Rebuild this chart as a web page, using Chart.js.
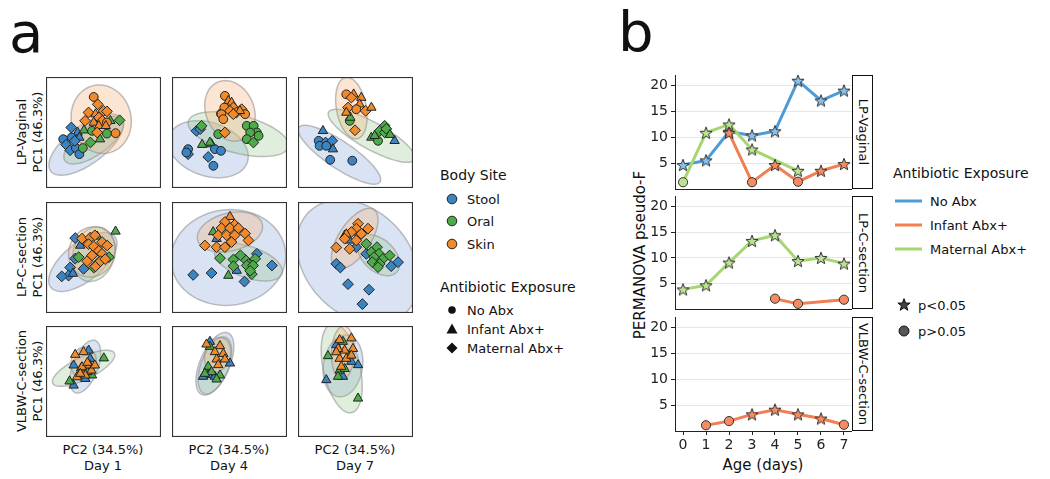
<!DOCTYPE html>
<html>
<head>
<meta charset="utf-8">
<script src="https://cdn.jsdelivr.net/npm/chart.js@4.4.1/dist/chart.umd.min.js"></script>
<style>
  body { margin: 0; background: #fff; width: 1050px; height: 479px; position: relative; overflow: hidden;
         font-family: 'DejaVu Sans', sans-serif; color: #111; }
  .abs { position: absolute; }
  .t { position: absolute; white-space: nowrap; transform: translate(-50%, -50%); line-height: 1; }
  .rl { position: absolute; white-space: nowrap; transform: translate(-50%, -50%) rotate(-90deg); line-height: 1; font-size: 13px; }
  .lg { position: absolute; white-space: nowrap; transform: translateY(-50%); line-height: 1; }
  .strip { position: absolute; box-sizing: border-box; border: 1px solid #111; width: 21px; }
  .strip span { position: absolute; left: 50%; top: 50%; white-space: nowrap; font-size: 13px;
                transform: translate(-50%, -50%) rotate(90deg); }
</style>
</head>
<body>
<div class="abs" style="left:9px;top:5px;font-size:56px;line-height:1">a</div>
<div class="abs" style="left:618px;top:4px;font-size:56px;line-height:1">b</div>

<!-- panel a row / column labels -->
<div class="rl" style="left:21px;top:132px">LP-Vaginal</div>
<div class="rl" style="left:37px;top:132px">PC1 (46.3%)</div>
<div class="rl" style="left:21px;top:257px">LP-C-section</div>
<div class="rl" style="left:37px;top:257px">PC1 (46.3%)</div>
<div class="rl" style="left:21px;top:381px">VLBW-C-section</div>
<div class="rl" style="left:37px;top:381px">PC1 (46.3%)</div>
<div class="t" style="left:103px;top:449px;font-size:13px">PC2 (34.5%)</div>
<div class="t" style="left:103px;top:465px;font-size:13px">Day 1</div>
<div class="t" style="left:229px;top:449px;font-size:13px">PC2 (34.5%)</div>
<div class="t" style="left:229px;top:465px;font-size:13px">Day 4</div>
<div class="t" style="left:355px;top:449px;font-size:13px">PC2 (34.5%)</div>
<div class="t" style="left:355px;top:465px;font-size:13px">Day 7</div>

<!-- panel a legends -->
<div class="lg" style="left:440px;top:175px;font-size:14px">Body Site</div>
<svg class="abs" style="left:445px;top:192px" width="14" height="14"><circle cx="7" cy="7" r="4.8" fill="#3b84c4" stroke="#222"/></svg>
<div class="lg" style="left:467px;top:199px;font-size:13px">Stool</div>
<svg class="abs" style="left:445px;top:214px" width="14" height="14"><circle cx="7" cy="7" r="4.8" fill="#4dab4a" stroke="#222"/></svg>
<div class="lg" style="left:467px;top:221px;font-size:13px">Oral</div>
<svg class="abs" style="left:445px;top:237px" width="14" height="14"><circle cx="7" cy="7" r="4.8" fill="#f08a2c" stroke="#222"/></svg>
<div class="lg" style="left:467px;top:244px;font-size:13px">Skin</div>
<div class="lg" style="left:440px;top:287px;font-size:14px">Antibiotic Exposure</div>
<svg class="abs" style="left:445px;top:303px" width="14" height="14"><circle cx="7" cy="7" r="3.8" fill="#111"/></svg>
<div class="lg" style="left:467px;top:310px;font-size:13px">No Abx</div>
<svg class="abs" style="left:445px;top:322px" width="14" height="14"><polygon points="7,1.5 12.5,11.5 1.5,11.5" fill="#111"/></svg>
<div class="lg" style="left:467px;top:329px;font-size:13px">Infant Abx+</div>
<svg class="abs" style="left:445px;top:341px" width="14" height="14"><polygon points="7,1.5 12.5,7 7,12.5 1.5,7" fill="#111"/></svg>
<div class="lg" style="left:467px;top:348px;font-size:13px">Maternal Abx+</div>

<!-- panel b labels -->
<div class="abs" style="left:640px;top:255px;white-space:nowrap;font-size:15px;line-height:1;transform:translate(-50%,-50%) rotate(-90deg)">PERMANOVA pseudo-F</div>
<div class="t" style="left:763px;top:465px;font-size:15px">Age (days)</div>
<div class="strip" style="left:852px;top:75px;height:114px"><span>LP-Vaginal</span></div>
<div class="strip" style="left:852px;top:196px;height:113px"><span>LP-C-section</span></div>
<div class="strip" style="left:852px;top:317px;height:114px"><span>VLBW-C-section</span></div>

<!-- panel b legend -->
<div class="lg" style="left:893px;top:173px;font-size:14px">Antibiotic Exposure</div>
<svg class="abs" style="left:894px;top:196px" width="30" height="10"><line x1="1" y1="5" x2="28" y2="5" stroke="#4f9bd5" stroke-width="3"/></svg>
<div class="lg" style="left:930px;top:201px;font-size:13px">No Abx</div>
<svg class="abs" style="left:894px;top:220px" width="30" height="10"><line x1="1" y1="5" x2="28" y2="5" stroke="#f27e52" stroke-width="3"/></svg>
<div class="lg" style="left:930px;top:225px;font-size:13px">Infant Abx+</div>
<svg class="abs" style="left:894px;top:244px" width="30" height="10"><line x1="1" y1="5" x2="28" y2="5" stroke="#a6d672" stroke-width="3"/></svg>
<div class="lg" style="left:930px;top:249px;font-size:13px">Maternal Abx+</div>
<svg class="abs" style="left:896px;top:297px" width="16" height="16"><polygon points="8,1.6 9.6,6 14.1,6.1 10.5,8.9 11.8,13.3 8,10.7 4.2,13.3 5.5,8.9 1.9,6.1 6.4,6" fill="#444" stroke="#111"/></svg>
<div class="lg" style="left:918px;top:305px;font-size:13px">p&lt;0.05</div>
<svg class="abs" style="left:896px;top:323px" width="16" height="16"><circle cx="8" cy="8" r="5" fill="#555" stroke="#111"/></svg>
<div class="lg" style="left:918px;top:331px;font-size:13px">p&gt;0.05</div>

<div id="charts"></div>

<script>
// ---- panel a: ordination points [PC2, PC1, exposure] ; exposure 0 = No Abx, 1 = Infant Abx+, 2 = Maternal Abx+
const vagD1Stool = [[22,54.5,2],[27.5,50,1],[15,44,0],[17.5,39,2],[21,34,2],[26,36,0],[29,30.5,0],[29,45.5,1],[22.5,45.5,0],[25,42.5,2]];
const vagD1Oral = [[64,61,2],[53,49,0],[47,44,1],[38.6,41,2],[32,36,0],[33,52,1],[40,51.5,0],[56,60.5,1]];
const vagD1Skin = [[41.5,82,0],[45,75.4,2],[50,69.5,2],[53,69,2],[37,68,2],[43,66.5,1],[46,63.5,2],[41.5,59,1],[49,60.5,2],[53,59,0],[46,56,1],[44.5,50,2],[60.5,49.4,0],[52,56,1],[34,60.5,2]];
const vagD4Stool = [[21.3,51.5,2],[24.5,53,2],[34.4,39.5,1],[37.3,35,0],[42.6,33.5,0],[14,35,0],[14,30.5,2],[31.5,28,2],[36,20,0],[12.5,32,0]];
const vagD4Oral = [[65,56,0],[71,56,0],[73.8,50,0],[68,50,0],[75.3,47,0],[65,44,0],[70.8,41,2],[40.2,48.5,0],[26.2,39,1],[33,41,1],[42.6,67,0],[25.7,56,2]];
const vagD4Skin = [[46,83,0],[49,78.4,1],[51.8,77,1],[45.5,72.5,0],[53.3,72.5,2],[60.6,71,2],[56,68,2],[50.4,69.5,2],[43,66.5,0],[63.6,66.5,0],[44.6,62,0],[46,50,2],[59,69.5,1],[53.3,66.5,2]];
const vagD7Stool = [[21.7,51.5,1],[18,42.5,0],[24,41,2],[29.8,42.5,2],[18.8,38,0],[30.4,35,1],[28,25.4,0],[47.2,24.6,0],[84,42.5,1],[24.6,38,0]];
const vagD7Oral = [[45,60.5,0],[45.5,63.5,1],[75.4,56,2],[71,51.5,2],[63.8,45.5,1],[69.6,42.5,0],[75.4,50,2],[76.8,53.3,2],[66.7,47,1],[80,48,1]];
const vagD7Skin = [[42,84.4,0],[48.4,84.4,1],[46.4,81.5,2],[55,81.4,1],[53.6,75.4,1],[43.5,72.5,2],[50.7,71,0],[58.8,69.5,2],[63.8,72.5,1],[42,68,1],[49.6,52,2]];
const csD1Stool = [[25.4,67.5,2],[29.8,60.8,1],[25.4,49,2],[21,41,2],[19.6,33.7,2],[13.7,33,2],[23.4,35.5,1],[32.7,39.8,2]];
const csD1Oral = [[60.5,73.5,1],[44.5,69,1],[28.4,50.3,2],[41.5,41,2],[54.7,50.3,2],[45.9,45.8,2]];
const csD1Skin = [[31.3,67,2],[38.6,68,2],[42.5,70,2],[37.1,62,2],[41.5,60,2],[48.8,63.9,2],[53.2,60.8,2],[45.9,56,2],[40,51.8,2],[48.8,53.3,2],[35.7,46.7,2],[43,42,2],[47.4,46.7,2],[51.5,48.5,2]];
const csD4Stool = [[38.8,66.9,1],[18.4,34.3,2],[34.4,36,2],[56.3,38.2,1],[63,28.3,2],[86.9,42.8,2],[73.8,53.3,2]];
const csD4Oral = [[35.8,73,1],[53.4,48.2,2],[63.6,48.2,2],[66.5,44,2],[72.3,48.8,2],[65,42.8,2],[70.5,42.8,2],[69.4,35,2],[53.4,42.2,2],[49,33.7,1],[41.7,49.4,2],[68,38,2],[59.5,52,2]];
const csD4Skin = [[50.4,86.7,1],[46,82,2],[54.5,79.5,2],[43,76.5,2],[50.4,76.5,2],[57.7,76.5,2],[40.2,70,2],[47.5,70,2],[54.5,70,2],[63.6,71.6,2],[66.5,65.4,2],[28.6,60.8,2],[38.8,59.3,2],[46,59.3,2],[51.8,63.9,2]];
const csD7Stool = [[40.6,69.9,1],[45,65.4,1],[50.7,59.3,2],[33.3,44.3,2],[36.8,41,2],[43.5,26,2],[61.7,21,2],[56,8,2],[59.4,53.3,2],[81,42.2,2],[87,45.8,2]];
const csD7Oral = [[59.4,62.3,2],[68.7,59.3,2],[63.8,54.8,2],[70.4,53.3,2],[66.1,50.3,2],[73.9,48.8,2],[79.7,51.8,2],[64.6,45.8,2],[71,44.3,2],[69.6,41.3,2]];
const csD7Skin = [[52.2,80.4,2],[50.7,75.9,2],[60.9,76,2],[46.4,72.9,2],[53.6,69.9,2],[42,71,1],[40.6,66.9,2],[50.7,65.4,2],[33.3,59,2],[44.9,57.8,2],[55.1,71.4,2]];
const vlbwD1Stool = [[37.1,78,1],[24,64.6,1],[38.5,70.5,1],[24,46.5,1],[34.2,52.5,1]];
const vlbwD1Oral = [[50.3,71,1],[20.5,50.2,1],[30.5,61.9,1],[40,55.6,1],[36,58.6,1]];
const vlbwD1Skin = [[25.4,74.2,1],[32.7,76.6,1],[38,64.6,1],[31.3,63,1],[34.2,55.6,1],[26.9,54,1],[39.5,60,1],[42.5,64.6,1],[29.8,57.1,1],[36,67,1]];
const vlbwD4Stool = [[33,85.9,1],[50.4,66.4,1],[31.5,55.9,1],[27,54.4,1],[37.3,54.4,1]];
const vlbwD4Oral = [[33,81.4,1],[31.5,63.4,1],[34.4,58.6,1],[41.7,55.6,1],[28.6,57.1,1],[38.8,52,1]];
const vlbwD4Skin = [[30,83.5,1],[41.7,82,1],[37.3,76.6,1],[44.6,75,1],[38.8,70,1],[46,70,1],[40.2,64.9,1]];
const vlbwD7Stool = [[33.3,82.9,1],[52.2,64.9,1],[24.6,51.4,1],[46.4,67.9,1],[39.1,54.4,1]];
const vlbwD7Oral = [[39.1,85.9,1],[26.1,73,1],[44.9,74.5,1],[36.2,60,1],[34.8,54.4,1],[52.2,34.8,1],[40.6,61.5,1]];
const vlbwD7Skin = [[36.2,87.4,1],[46.4,89,1],[40.6,78,1],[47.8,79.5,1],[34.8,79.5,1],[36.2,70.6,1],[42,70.6,1],[46.4,73.5,1],[37.7,63.4,1],[33.3,76.5,1]];

// confidence ellipses per site (stool, oral, skin): [centre PC2, centre PC1, semi-major, semi-minor, angle deg]
const vagD1Ell = [[35,39,39,17,38],[41.5,43,31,13,37],[48,62,31,26,101]];
const vagD4Ell = [[31.5,35,36,24,-20],[57.7,48.5,45,17,-15],[50.4,69.5,28,21,110]];
const vagD7Ell = [[36,30,43,12,-35],[64,47,43,12,-30],[46.4,72,28,13,100]];
const csD1Ell = [[32,46,36,17,40],[41.5,53,25,18,75],[40,55,23,20,70]];
const csD4Ell = [[49,50,50,43,8],[66.5,45.8,31,14,-20],[50.4,73,29,17,15]];
const csD7Ell = [[52,46,62,46,-50],[70,52,22,14,-45],[49.3,67,31,14,58]];
const vlbwD1Ell = [[34.2,63.4,25,11,70],[32.7,61.9,30,10,27],[32.7,67,14,11,80]];
const vlbwD4Ell = [[37.3,66,30,13,68],[37.3,64.5,27,12,70],[39.7,74,16,11,75]];
const vlbwD7Ell = [[39.1,64,28,17,82],[38,62,41,16,102],[39.1,76,24,10,88]];

// ---- panel b: PERMANOVA pseudo-F by age; sig 1 = p<0.05 (star), 0 = p>0.05 (circle)
const ages = [0, 1, 2, 3, 4, 5, 6, 7];
const yTicks = [5, 10, 15, 20];
const vagNoAbx = [4.7, 5.6, 11.1, 10.4, 11.2, 20.9, 17.1, 19.0];
const vagNoAbxSig = [1, 1, 1, 1, 1, 1, 1, 1];
const vagInfant = [null, null, 10.9, 1.4, 4.7, 1.5, 3.6, 4.9];
const vagInfantSig = [0, 0, 1, 0, 1, 0, 1, 1];
const vagMaternal = [1.4, 10.9, 12.5, 7.7, null, 3.6, null, null];
const vagMaternalSig = [0, 1, 1, 1, 0, 1, 0, 0];
const csInfant = [null, null, null, null, 2.1, 1.1, null, 1.9];
const csInfantSig = [0, 0, 0, 0, 0, 0, 0, 0];
const csMaternal = [3.9, 4.7, 9.1, 13.3, 14.4, 9.4, 10.0, 8.9];
const csMaternalSig = [1, 1, 1, 1, 1, 1, 1, 1];
const vlbwInfant = [null, 1.2, 2.0, 3.3, 4.2, 3.3, 2.5, 1.3];
const vlbwInfantSig = [0, 0, 0, 1, 1, 1, 1, 0];

const shapes = ['circle', 'triangle', 'rectRot'];
const siteColors = ['#3b84c4', '#4dab4a', '#f08a2c'];
const ellFill = ['rgba(120,150,212,0.27)', 'rgba(140,196,130,0.27)', 'rgba(245,178,120,0.33)'];
const lineColors = { none: '#4f9bd5', infant: '#f27e52', maternal: '#a6d672' };
const markFill = { none: '#86c0ec', infant: '#f58b63', maternal: '#b9e291' };

Chart.defaults.font.family = "'DejaVu Sans', sans-serif";
Chart.defaults.color = '#222';

const ellipsePlugin = {
    id: 'ellipses',
    beforeDatasetsDraw(chart, args, opts) {
        const { ctx, chartArea: a, scales: { x, y } } = chart;
        ctx.save();
        ctx.beginPath();
        ctx.rect(a.left, a.top, a.width, a.height);
        ctx.clip();
        opts.list.forEach(([cx, cy, ra, rb, deg], i) => {
            const th = deg * Math.PI / 180;
            ctx.beginPath();
            for (let k = 0; k <= 90; k++) {
                const t = k / 90 * Math.PI * 2;
                const dx = ra * Math.cos(t), dy = rb * Math.sin(t);
                const px = x.getPixelForValue(cx + dx * Math.cos(th) - dy * Math.sin(th));
                const py = y.getPixelForValue(cy + dx * Math.sin(th) + dy * Math.cos(th));
                k ? ctx.lineTo(px, py) : ctx.moveTo(px, py);
            }
            ctx.closePath();
            ctx.fillStyle = ellFill[i];
            ctx.fill();
            ctx.strokeStyle = 'rgba(140,140,140,0.55)';
            ctx.lineWidth = 1.5;
            ctx.stroke();
        });
        ctx.restore();
    }
};

const framePlugin = {
    id: 'frame',
    afterDraw(chart) {
        const { ctx, chartArea: a } = chart;
        ctx.save();
        ctx.strokeStyle = '#333';
        ctx.lineWidth = 1.2;
        ctx.strokeRect(a.left + 0.5, a.top + 0.5, a.width - 1, a.height - 1);
        ctx.restore();
    }
};

const holder = document.getElementById('charts');
const makeCanvas = (left, top, w, h) => {
    const d = document.createElement('div');
    d.className = 'abs';
    Object.assign(d.style, { left: left + 'px', top: top + 'px', width: w + 'px', height: h + 'px' });
    const c = document.createElement('canvas');
    d.appendChild(c);
    holder.appendChild(d);
    return c;
};

const grid = [
    [[vagD1Stool, vagD1Oral, vagD1Skin, vagD1Ell], [vagD4Stool, vagD4Oral, vagD4Skin, vagD4Ell], [vagD7Stool, vagD7Oral, vagD7Skin, vagD7Ell]],
    [[csD1Stool, csD1Oral, csD1Skin, csD1Ell], [csD4Stool, csD4Oral, csD4Skin, csD4Ell], [csD7Stool, csD7Oral, csD7Skin, csD7Ell]],
    [[vlbwD1Stool, vlbwD1Oral, vlbwD1Skin, vlbwD1Ell], [vlbwD4Stool, vlbwD4Oral, vlbwD4Skin, vlbwD4Ell], [vlbwD7Stool, vlbwD7Oral, vlbwD7Skin, vlbwD7Ell]]
];
const colX = [46, 172, 298];
const rowY = [77, 202, 326];

grid.forEach((row, r) => row.forEach(([stool, oral, skin, ells], c) => {
    const canvas = makeCanvas(colX[c], rowY[r], 115, 111);
    new Chart(canvas, {
        type: 'scatter',
        data: {
            datasets: [stool, oral, skin].map((pts, i) => ({
                data: pts.map(p => ({ x: p[0], y: p[1], a: p[2] })),
                pointStyle: ctx => shapes[ctx.raw.a],
                pointRadius: ctx => ctx.raw.a === 0 ? 4.4 : 5.4,
                backgroundColor: siteColors[i],
                borderColor: '#222',
                borderWidth: 1,
                order: 3 - i
            }))
        },
        options: {
            animation: false,
            responsive: true,
            maintainAspectRatio: false,
            layout: { padding: 0, autoPadding: false },
            plugins: { legend: { display: false }, tooltip: { enabled: false }, ellipses: { list: ells } },
            scales: {
                x: { display: false, min: 0, max: 100 },
                y: { display: false, min: 0, max: 100 }
            }
        },
        plugins: [ellipsePlugin, framePlugin]
    });
}));

// filled star marker for significant points
const starIcon = fill => {
    const c = document.createElement('canvas');
    c.width = c.height = 16;
    const g = c.getContext('2d');
    g.beginPath();
    for (let k = 0; k < 10; k++) {
        const rad = k % 2 ? 2.7 : 6.4;
        const t = -Math.PI / 2 + k * Math.PI / 5;
        g.lineTo(8 + rad * Math.cos(t), 8.6 + rad * Math.sin(t));
    }
    g.closePath();
    g.fillStyle = fill;
    g.fill();
    g.strokeStyle = '#333';
    g.lineWidth = 1;
    g.stroke();
    return c;
};
const stars = {
    none: starIcon(markFill.none),
    infant: starIcon(markFill.infant),
    maternal: starIcon(markFill.maternal)
};

const lineChart = (top, h, series, showX) => {
    const canvas = makeCanvas(640, top, 212, h);
    new Chart(canvas, {
        type: 'line',
        data: {
            datasets: series.map(([key, vals, sig]) => ({
                data: ages.map((a, i) => ({ x: a, y: vals[i] })),
                borderColor: lineColors[key],
                borderWidth: 3,
                tension: 0,
                spanGaps: true,
                clip: false,
                pointStyle: ctx => sig[ctx.dataIndex] ? stars[key] : 'circle',
                pointRadius: 4.6,
                pointBackgroundColor: markFill[key],
                pointBorderColor: '#333',
                pointBorderWidth: 1
            }))
        },
        options: {
            animation: false,
            responsive: true,
            maintainAspectRatio: false,
            layout: { padding: 0, autoPadding: false },
            plugins: { legend: { display: false }, tooltip: { enabled: false } },
            scales: {
                x: {
                    type: 'linear', min: -0.35, max: 7.35,
                    afterBuildTicks: s => { s.ticks = ages.map(v => ({ value: v })); },
                    afterFit: s => { s.height = showX ? 22 : 1; s.paddingLeft = 0; s.paddingRight = 0; },
                    ticks: { display: showX, font: { size: 14 }, color: '#222', padding: 2, maxRotation: 0, autoSkip: false },
                    grid: { drawOnChartArea: false, drawTicks: showX, tickColor: '#222', tickLength: 4 },
                    border: { color: '#222', width: 1 }
                },
                y: {
                    min: 0.1, max: 22,
                    afterBuildTicks: s => { s.ticks = yTicks.map(v => ({ value: v })); },
                    afterFit: s => { s.width = 35; s.paddingTop = 0; s.paddingBottom = 0; },
                    ticks: { font: { size: 14 }, color: '#222', padding: 3 },
                    grid: { color: '#e6e6e6', tickColor: '#222', tickLength: 4 },
                    border: { color: '#222', width: 1 }
                }
            }
        }
    });
};

lineChart(75, 115, [['infant', vagInfant, vagInfantSig], ['maternal', vagMaternal, vagMaternalSig], ['none', vagNoAbx, vagNoAbxSig]], false);
lineChart(196, 114, [['infant', csInfant, csInfantSig], ['maternal', csMaternal, csMaternalSig]], false);
lineChart(317, 136, [['infant', vlbwInfant, vlbwInfantSig]], true);
</script>
</body>
</html>
